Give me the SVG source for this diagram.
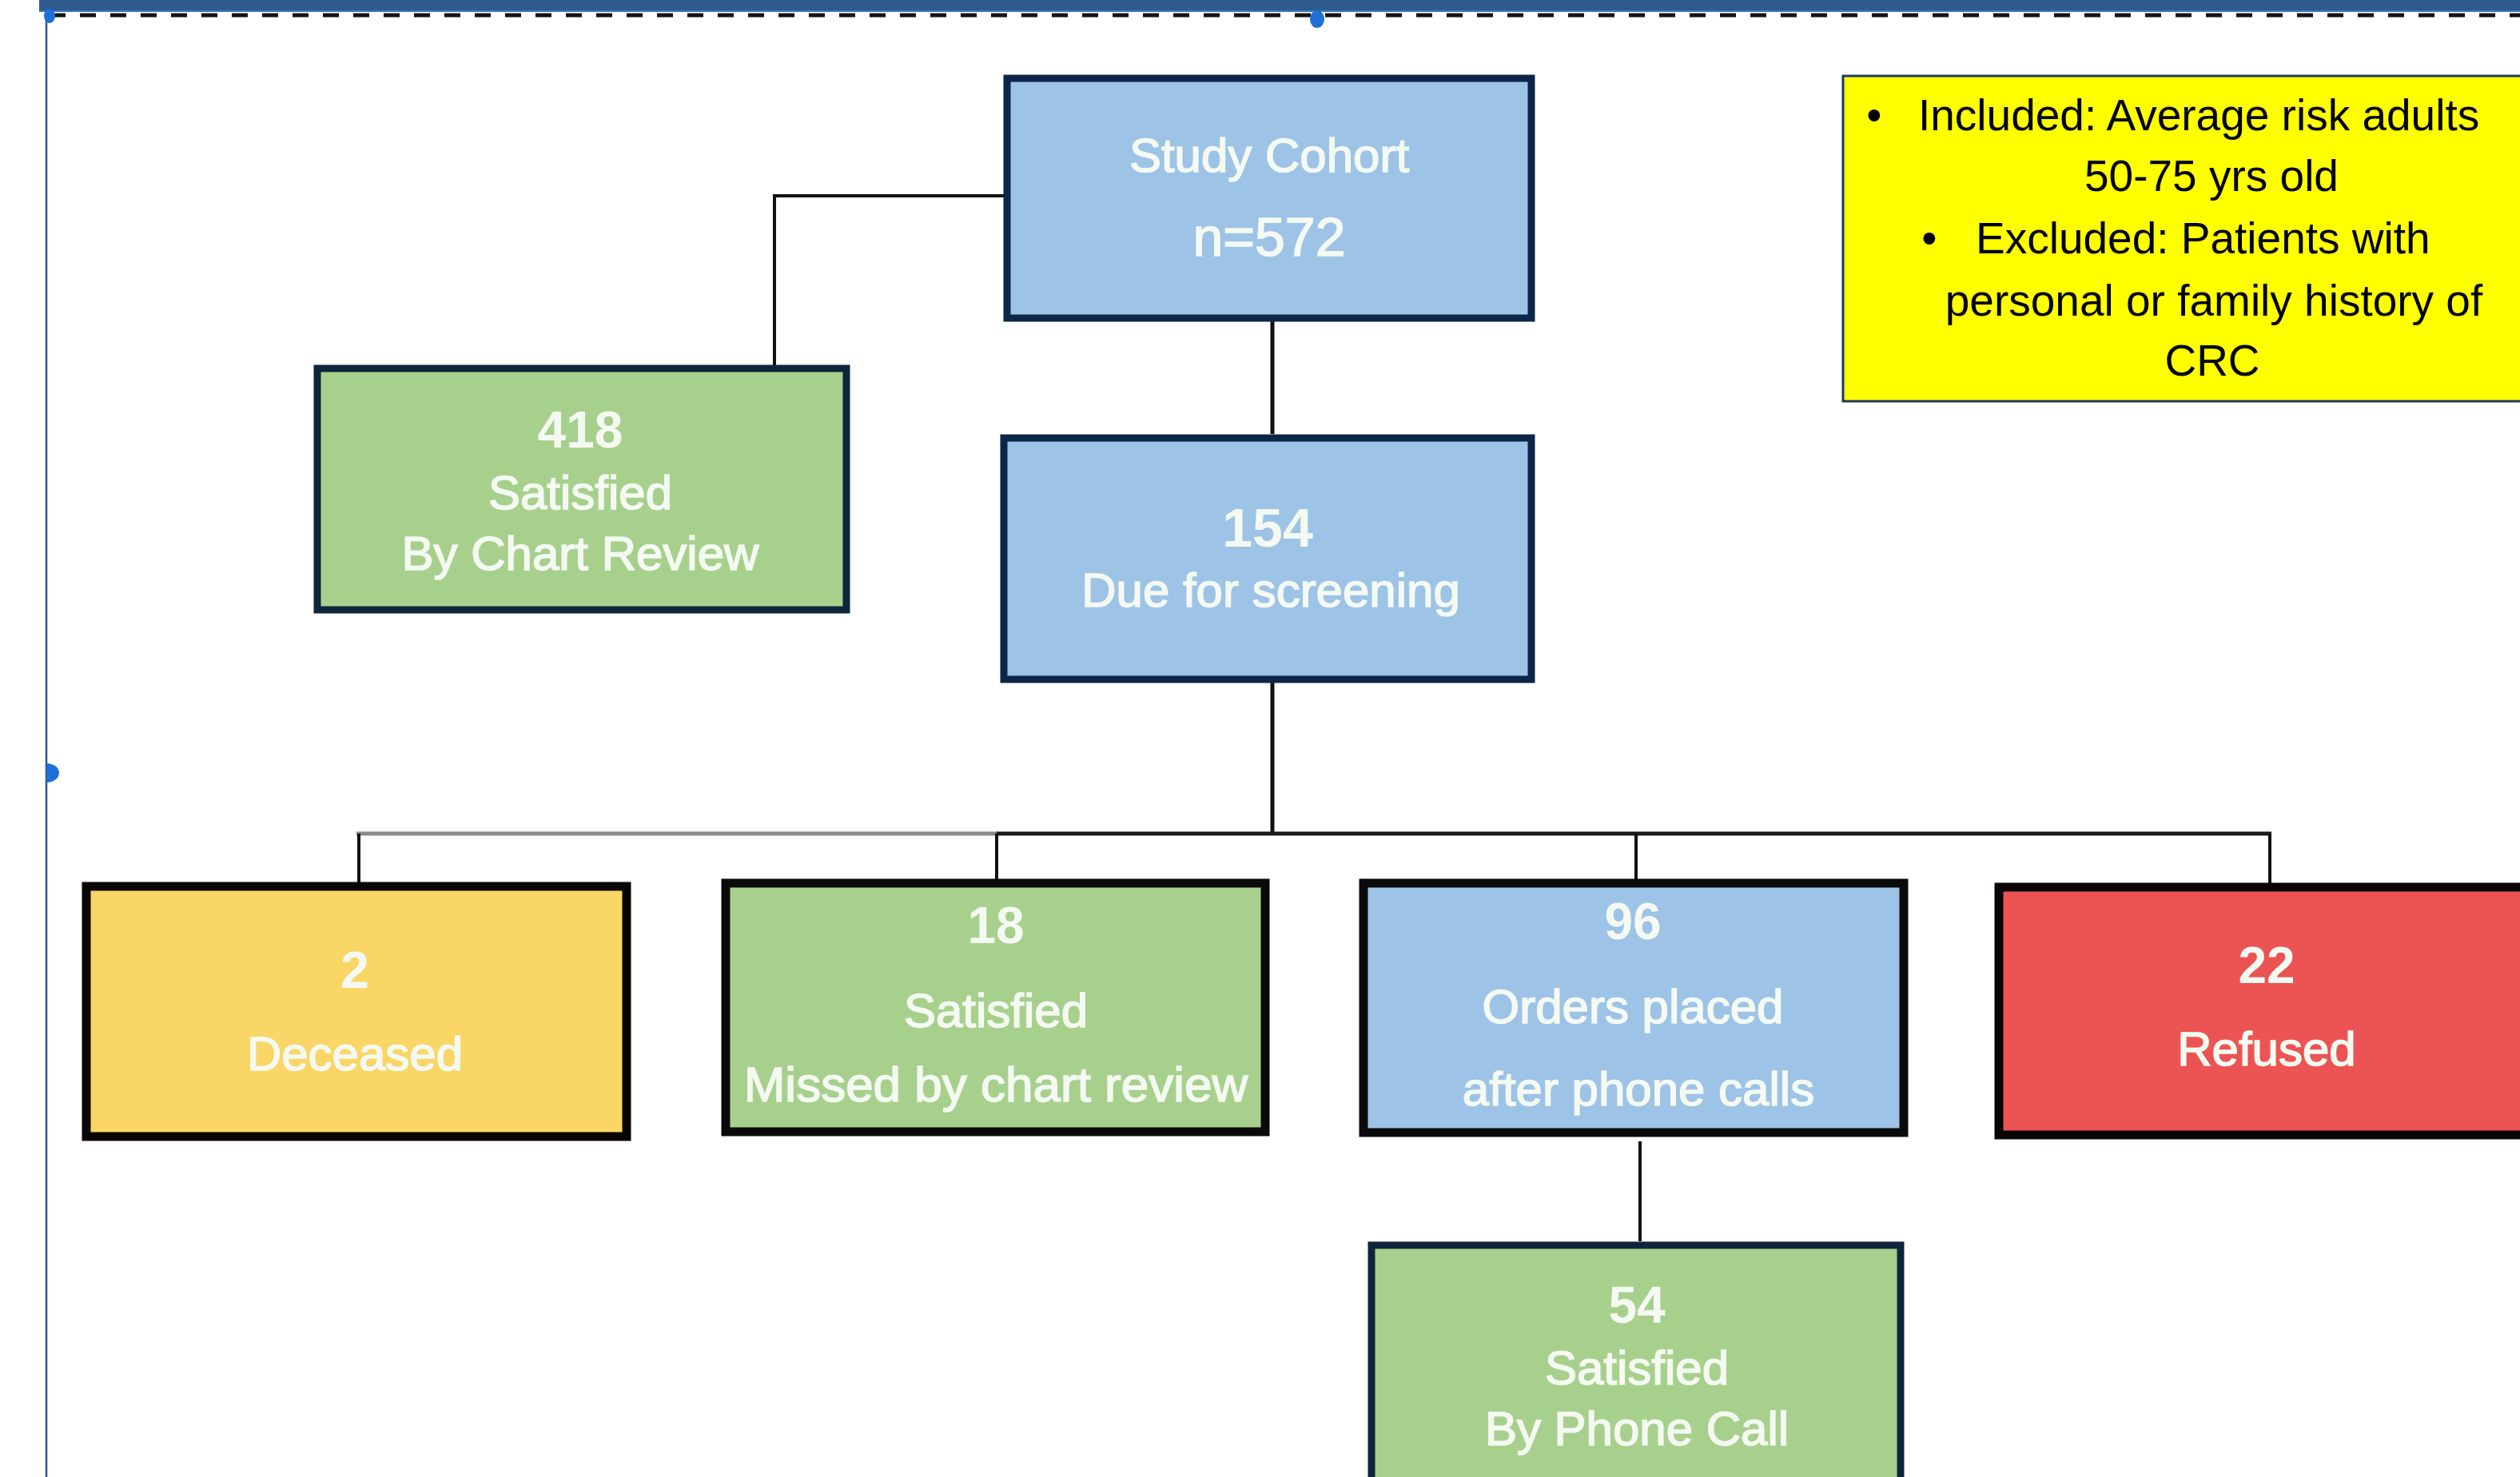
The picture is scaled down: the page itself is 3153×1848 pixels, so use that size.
<svg xmlns="http://www.w3.org/2000/svg" width="3153" height="1848" viewBox="0 0 3153 1848">
  <style>
    .bg { fill: #ffffff; }
    .blue { fill: #9DC3E6; stroke: #0C2548; stroke-width: 9; }
    .green { fill: #A8D08D; stroke: #0E263C; stroke-width: 9; }
    .greenk { fill: #A8D08D; stroke: #0A0A0A; stroke-width: 11; }
    .bluek { fill: #9DC3E6; stroke: #0A0A0A; stroke-width: 11; }
    .orange { fill: #F9D665; stroke: #0A0505; stroke-width: 11; }
    .red { fill: #EC5353; stroke: #0A0505; stroke-width: 11; }
    .note { fill: #FFFF00; stroke: #1F3864; stroke-width: 3; }
    .num { font-family: "Liberation Sans", Arial, sans-serif; font-weight: bold; font-size: 64px; fill: #F4FAF2; text-anchor: middle; }
    .lbl { font-family: "Liberation Sans", Arial, sans-serif; font-size: 60px; fill: #F4FAF2; stroke: #F4FAF2; stroke-width: 1.6; text-anchor: middle; }
    .nt { font-family: "Liberation Sans", Arial, sans-serif; font-size: 55px; fill: #000000; }
    .conn { fill: none; stroke: #111111; stroke-width: 4; }
    .conn-thick { fill: none; stroke: #111111; stroke-width: 5; }
    .handle { fill: #1E6FD6; }
  </style>
  <rect class="bg" x="0" y="0" width="3153" height="1848"/>

  <!-- frame / slide chrome -->
  <g id="frame">
    <rect x="49" y="0" width="3104" height="14" fill="#2E5A8E"/>
    <rect x="49" y="13" width="3104" height="2" fill="#3A7CC0"/>
    <line x1="62" y1="19" x2="3153" y2="19" stroke="#141414" stroke-width="5" stroke-dasharray="20 18"/>
    <line x1="58" y1="14" x2="58" y2="1848" stroke="#2B4F9E" stroke-width="2.5"/>
    <ellipse class="handle" cx="62" cy="20" rx="7" ry="9"/>
    <ellipse class="handle" cx="1648" cy="24" rx="9" ry="11"/>
    <path class="handle" d="M58,955 A16,12 0 0 1 58,979 Z"/>
  </g>

  <!-- connectors -->
  <g id="connectors">
    <polyline class="conn" points="1256,245 969,245 969,458"/>
    <line class="conn-thick" x1="1592" y1="402" x2="1592" y2="543"/>
    <line class="conn-thick" x1="1592" y1="854" x2="1592" y2="1043"/>
    <line x1="446" y1="1043" x2="1249" y2="1043" stroke="#8A8A8A" stroke-width="5"/>
    <line x1="1247" y1="1043" x2="2842" y2="1043" stroke="#1A1A1A" stroke-width="5"/>
    <line class="conn" x1="449" y1="1043" x2="449" y2="1104"/>
    <line class="conn" x1="1247" y1="1043" x2="1247" y2="1100"/>
    <line class="conn" x1="2047" y1="1043" x2="2047" y2="1100"/>
    <line class="conn" x1="2840" y1="1043" x2="2840" y2="1105"/>
    <line class="conn" x1="2052" y1="1428" x2="2052" y2="1553"/>
  </g>

  <g id="study-cohort">
    <rect class="blue" x="1260" y="98" width="656" height="300"/>
    <text class="lbl" x="1588" y="215">Study Cohort</text>
    <text class="lbl" x="1588" y="320" style="font-size:68px">n=572</text>
  </g>

  <g id="chart-review">
    <rect class="green" x="397" y="461" width="662" height="302"/>
    <text class="num" x="726" y="560">418</text>
    <text class="lbl" x="726" y="637">Satisfied</text>
    <text class="lbl" x="726" y="713">By Chart Review</text>
  </g>

  <g id="due-screening">
    <rect class="blue" x="1256" y="548" width="660" height="302"/>
    <text class="num" x="1586" y="684" style="font-size:68px">154</text>
    <text class="lbl" x="1590" y="759">Due for screening</text>
  </g>

  <g id="deceased">
    <rect class="orange" x="108" y="1109" width="676" height="313"/>
    <text class="num" x="444" y="1236">2</text>
    <text class="lbl" x="444" y="1339">Deceased</text>
  </g>

  <g id="missed">
    <rect class="greenk" x="908" y="1105" width="675" height="311"/>
    <text class="num" x="1246" y="1180">18</text>
    <text class="lbl" x="1246" y="1285">Satisfied</text>
    <text class="lbl" x="1246" y="1378" style="font-size:62px">Missed by chart review</text>
  </g>

  <g id="orders">
    <rect class="bluek" x="1706" y="1105" width="676" height="312"/>
    <text class="num" x="2043" y="1175">96</text>
    <text class="lbl" x="2043" y="1280">Orders placed</text>
    <text class="lbl" x="2050" y="1383">after phone calls</text>
  </g>

  <g id="refused">
    <rect class="red" x="2501" y="1110" width="720" height="310"/>
    <text class="num" x="2836" y="1230">22</text>
    <text class="lbl" x="2836" y="1333">Refused</text>
  </g>

  <g id="phone-call">
    <rect class="green" x="1716" y="1558" width="662" height="320"/>
    <text class="num" x="2048" y="1655">54</text>
    <text class="lbl" x="2048" y="1732">Satisfied</text>
    <text class="lbl" x="2048" y="1808">By Phone Call</text>
  </g>

  <g id="criteria-note">
    <rect class="note" x="2306" y="95" width="900" height="407"/>
    <text class="nt" x="2345" y="163" text-anchor="middle">•</text>
    <text class="nt" x="2400" y="163">Included: Average risk adults</text>
    <text class="nt" x="2767" y="239" text-anchor="middle">50-75 yrs old</text>
    <text class="nt" x="2414" y="317" text-anchor="middle">•</text>
    <text class="nt" x="2472" y="317">Excluded: Patients with</text>
    <text class="nt" x="2770" y="395" text-anchor="middle">personal or family history of</text>
    <text class="nt" x="2768" y="470" text-anchor="middle">CRC</text>
  </g>
</svg>
